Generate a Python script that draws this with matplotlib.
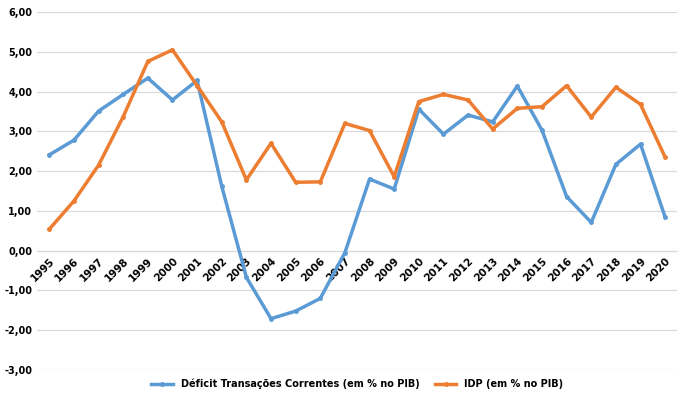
import numpy as np
import matplotlib.pyplot as plt

anos = list(range(1995, 2021))

# Déficit em transações correntes (% do PIB)
deficit_tc = [2.41, 2.78, 3.51, 3.93, 4.34, 3.79, 4.28, 1.62, -0.67, -1.71,
              -1.52, -1.20, -0.05, 1.80, 1.55, 3.56, 2.93, 3.41, 3.24, 4.14,
              3.03, 1.36, 0.71, 2.17, 2.68, 0.84]

# Investimento direto no país (% do PIB)
idp = [0.54, 1.25, 2.15, 3.37, 4.76, 5.05, 4.15, 3.24, 1.78, 2.70,
       1.72, 1.73, 3.20, 3.02, 1.86, 3.75, 3.93, 3.79, 3.06, 3.58,
       3.62, 4.15, 3.36, 4.11, 3.68, 2.35]

y_ticks = [-3, -2, -1, 0, 1, 2, 3, 4, 5, 6]

plt.rcParams['font.family'] = ['DejaVu Sans']

fig = plt.figure(figsize=(6.85, 4.03), dpi=100)
ax = fig.add_axes([0.054, 0.082, 0.935, 0.888])

# eixo x cruzando no zero (antes de formatar os ticks)
ax.spines['bottom'].set_position(('data', 0))
ax.spines['bottom'].set_color('#D9D9D9')
for s in ['top', 'right', 'left']:
    ax.spines[s].set_visible(False)

ax.plot(anos, deficit_tc, color='#5B9BD5', lw=2.5, marker='o', ms=2.5,
        label='Déficit Transações Correntes (em % no PIB)', zorder=3)
ax.plot(anos, idp, color='#ED7D31', lw=2.5, marker='o', ms=2.5,
        label='IDP (em % no PIB)', zorder=3)

ax.set_ylim(-3, 6)
ax.set_xlim(1994.5, 2020.5)
ax.set_yticks(y_ticks)
ax.set_yticklabels([f'{v:.2f}'.replace('.', ',') for v in y_ticks],
                   fontsize=7, fontweight='bold')
ax.grid(axis='y', color='#D9D9D9', lw=0.9)
ax.set_axisbelow(True)

ax.set_xticks(anos)
ax.set_xticklabels([str(a) for a in anos], rotation=45, ha='right',
                   va='top', rotation_mode='anchor', fontsize=7.5,
                   fontweight='bold')
ax.tick_params(length=0)
ax.tick_params(axis='x', pad=4)

leg = ax.legend(loc='upper center', bbox_to_anchor=(0.5, 0.0), ncol=2,
                frameon=False, prop={'size': 7, 'weight': 'bold'},
                handlelength=2.2, columnspacing=1.6)

fig.savefig('out.png', dpi=100)
